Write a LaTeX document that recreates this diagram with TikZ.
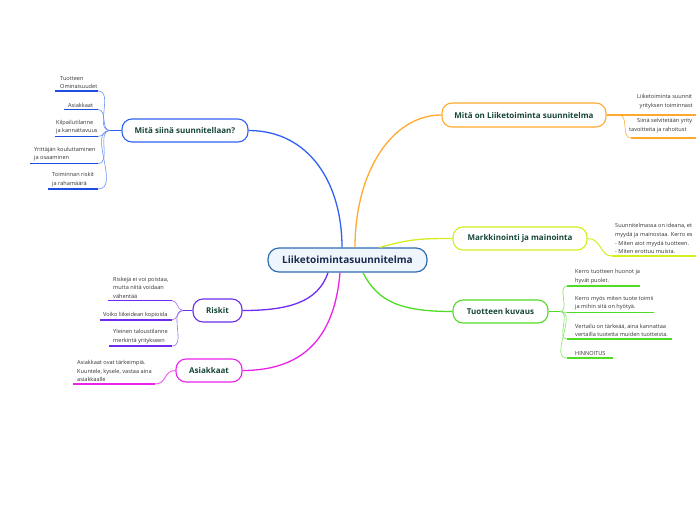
\documentclass[tikz,border=0pt]{standalone}
\usepackage{fontspec}
\setmainfont{Open Sans}
\usetikzlibrary{calc}
\definecolor{cblue}{HTML}{2F62F2}
\definecolor{cblueD}{HTML}{1F4DE0}
\definecolor{corange}{HTML}{FFAA2E}
\definecolor{cyellow}{HTML}{D4EE1E}
\definecolor{cgreen}{HTML}{4EDC24}
\definecolor{cpurple}{HTML}{6E2CEE}
\definecolor{cmag}{HTML}{EA22EA}
\definecolor{ctxt}{HTML}{17463A}
\definecolor{cnavy}{HTML}{1B2A4E}
\definecolor{cfill}{HTML}{EEF5FC}
\definecolor{ccentral}{HTML}{2F6DB5}
\definecolor{cleaf}{HTML}{333333}
\begin{document}
\begin{tikzpicture}[x=1pt,y=-1pt,
  branch/.style={draw, rounded corners=10pt, line width=1.1pt, fill=white, text=ctxt,
    font=\bfseries\fontsize{8}{10}\selectfont, inner sep=0},
  leaf/.style={anchor=south west, inner sep=0, align=left, text=cleaf,
    font=\fontsize{5.6}{8.6}\selectfont},
  ul/.style={line width=1.5pt},
  twig/.style={line width=0.6pt},
  stem/.style={line width=1.4pt},
  mainline/.style={line width=1.3pt}]
\useasboundingbox (0,0) rectangle (696,520);
\clip (0,0) rectangle (696,520);

% central and branch nodes
\node[draw=ccentral, fill=cfill, rounded corners=11pt, line width=1.2pt,
  minimum width=159pt, minimum height=24pt, text=cnavy, inner sep=0,
  font=\bfseries\fontsize{10}{12}\selectfont] (c) at (347.5,260) {Liiketoimintasuunnitelma};
\node[branch, draw=cblue, minimum width=126pt, minimum height=23pt] (b1) at (185,130.5) {Mitä siinä suunnitellaan?};
\node[branch, draw=corange, minimum width=164pt, minimum height=24pt] (b2) at (524,115) {Mitä on Liiketoiminta suunnitelma};
\node[branch, draw=cyellow, minimum width=134pt, minimum height=23pt] (b3) at (520,238.5) {Markkinointi ja mainointa};
\node[branch, draw=cgreen, minimum width=95pt, minimum height=23pt] (b4) at (500.5,311.5) {Tuotteen kuvaus};
\node[branch, draw=cpurple, minimum width=49pt, minimum height=23pt] (b5) at (217.5,310.5) {Riskit};
\node[branch, draw=cmag, minimum width=66pt, minimum height=23pt] (b6) at (209,370.5) {Asiakkaat};

% main connectors
\draw[mainline, cblue] ($(c.north)+(-5.5,0)$) .. controls +(0,-65) and +(60,0) .. (b1.east);
\draw[mainline, corange] ($(c.north)+(7.5,0)$) .. controls +(0,-75) and +(-50,0) .. (b2.west);
\draw[mainline, cyellow] ($(c.north)+(32,0)$) .. controls +(30,-8) and +(-35,0) .. (b3.west);
\draw[mainline, cgreen] ($(c.south)+(15.5,0)$) .. controls +(15,30) and +(-50,0) .. (b4.west);
\draw[mainline, cpurple] ($(c.south)+(-19.5,0)$) .. controls +(-10,30) and +(45,0) .. (b5.east);
\draw[mainline, cmag] ($(c.south)+(-7.5,0)$) .. controls +(-5,60) and +(65,0) .. (b6.east);

% ---- blue leaves
\coordinate (j1) at (110,130.5);
\draw[stem, cblue] (b1.west) -- (j1);
\node[leaf] (t11) at (60,89) {Tuotteen\\Ominaisuudet};
\node[leaf] (t12) at (68,107.5) {Asiakkaat};
\node[leaf] (t13) at (56,134.5) {Kilpailutilanne\\ja kannattavuus};
\node[leaf] (t14) at (34,161.5) {Yrittäjän kouluttaminen\\ja osaaminen};
\node[leaf] (t15) at (52,187) {Toiminnan riskit\\ja rahamäärä};
\coordinate (u11a) at (55,91);    \coordinate (u11b) at (98,91);
\coordinate (u12a) at (64,109.5); \coordinate (u12b) at (98,109.5);
\coordinate (u13a) at (55,136.5); \coordinate (u13b) at (98,136.5);
\coordinate (u14a) at (30,163.5); \coordinate (u14b) at (98,163.5);
\coordinate (u15a) at (48,189);   \coordinate (u15b) at (98,189);
\foreach \i in {11,12,13,14,15}{
  \draw[ul, cblueD] (u\i a) -- (u\i b);
  \draw[twig, cblue!70] (j1) to[out=180,in=0] (u\i b);
}

% ---- orange leaves (cut by the right edge as in the picture)
\coordinate (j2) at (619,115);
\draw[stem, corange] (b2.east) -- (j2);
\node[leaf] (t21) at (637,109) {Liiketoiminta suunnit\\\hspace*{2.5pt}yrityksen toiminnast};
\node[leaf] (t22) at (629,133) {\hspace*{8pt}Siinä selvitetään yrity\\tavoitteita ja rahoitust};
\coordinate (u21a) at (619,115); \coordinate (u21b) at (700,115);
\coordinate (u22a) at (631,138); \coordinate (u22b) at (700,138);
\draw[ul, corange] (u21a) -- (u21b);
\draw[ul, corange] (u22a) -- (u22b);
\draw[twig, corange] (j2) to[out=0,in=180] (u22a);

% ---- yellow leaf
\node[leaf] (t31) at (615,254) {Suunnitelmassa on ideana, et\\myydä ja mainostaa. Kerro es\\- Miten aiot myydä tuotteen.\\- Miten erottuu muista.};
\coordinate (u31a) at (612,256); \coordinate (u31b) at (700,256);
\draw[ul, cyellow] (u31a) -- (u31b);
\draw[stem, cyellow, line width=1pt] (b3.east) .. controls +(14,0) and +(-12,0) .. (u31a);

% ---- green leaves
\coordinate (j4) at (560,311.5);
\draw[stem, cgreen] (b4.east) -- (j4);
\node[leaf] (t41) at (575,284) {Kerro tuotteen huonot ja\\hyvät puolet.};
\node[leaf] (t42) at (575,310.5) {Kerro myös miten tuote toimii\\ja mihin sitä on hyötyä.};
\node[leaf] (t43) at (575,337) {Vertailu on tärkeää, aina kannattaa\\vertailla tuotetta muiden tuotteista.};
\node[leaf] (t44) at (575,356) {HINNOITUS};
\coordinate (u41a) at (567,286);   \coordinate (u41b) at (640,286);
\coordinate (u42a) at (567,312.5); \coordinate (u42b) at (654,312.5);
\coordinate (u43a) at (567,339);   \coordinate (u43b) at (672,339);
\coordinate (u44a) at (567,358);   \coordinate (u44b) at (613,358);
\foreach \i in {41,42,43,44}{
  \draw[ul, cgreen] (u\i a) -- (u\i b);
  \draw[twig, cgreen!75] (j4) to[out=0,in=180] (u\i a);
}

% ---- purple leaves
\coordinate (j5) at (183,310.5);
\draw[stem, cpurple] (b5.west) -- (j5);
\node[leaf] (t51) at (113,298.5) {Riskejä ei voi poistaa,\\mutta niitä voidaan\\vähentää};
\node[leaf] (t52) at (103,318) {Voiko liikeidean kopioida};
\node[leaf] (t53) at (113,344) {Yleinen taloustilanne\\merkintä yritykseen};
\coordinate (u51a) at (108,300.5); \coordinate (u51b) at (172,300.5);
\coordinate (u52a) at (100,320);   \coordinate (u52b) at (172,320);
\coordinate (u53a) at (109,346);   \coordinate (u53b) at (172,346);
\foreach \i in {51,52,53}{
  \draw[ul, cpurple] (u\i a) -- (u\i b);
  \draw[twig, cpurple!70] (j5) to[out=180,in=0] (u\i b);
}

% ---- magenta leaf
\node[leaf] (t61) at (77,382) {Asiakkaat ovat tärkeimpiä.\\Kuuntele, kysele, vastaa aina\\asiakkaalle};
\coordinate (u61a) at (73,384); \coordinate (u61b) at (155,384);
\draw[ul, cmag] (u61a) -- (u61b);
\draw[stem, cmag!70, line width=1pt] (b6.west) .. controls +(-12,0) and +(12,0) .. (u61b);
\end{tikzpicture}
\end{document}
